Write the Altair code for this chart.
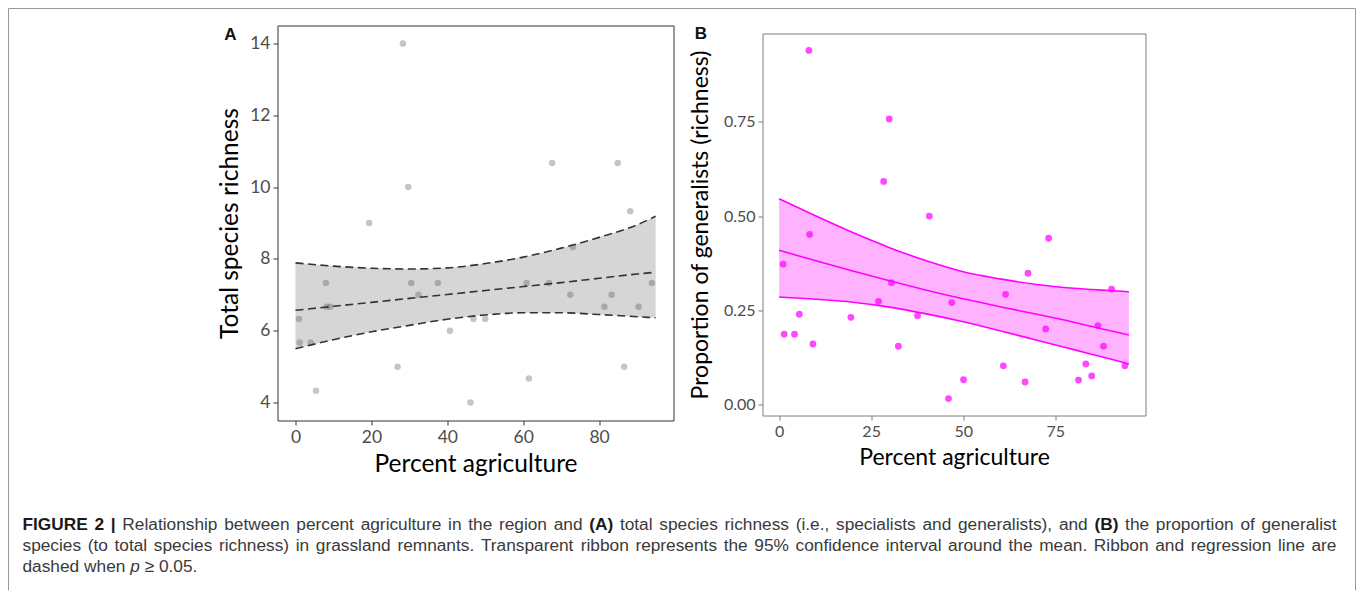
import altair as alt
import pandas as pd

# ---------------- Panel A: total species richness ----------------
agri_a = [0.9, 1.1, 4.0, 5.4, 8.0, 8.2, 9.1, 19.4, 26.9, 28.3, 29.7, 30.5, 32.4, 37.5, 40.7, 46.1,
          46.9, 50.0, 60.9, 61.5, 66.8, 67.6, 72.4, 73.1, 81.4, 83.3, 84.9, 86.6, 88.2, 90.4, 93.9]
rich_a = [6.33, 5.67, 5.67, 4.33, 7.33, 6.67, 6.67, 9.0, 5.0, 14.0, 10.0, 7.33, 7.0, 7.33, 6.0, 4.0,
          6.33, 6.33, 7.33, 4.67, 7.33, 10.67, 7.0, 8.33, 6.67, 7.0, 10.67, 5.0, 9.33, 6.67, 7.33]
fit_x_a = [0, 10, 20, 30, 40, 50, 60, 70, 80, 90, 94.9]
mean_a = [6.57, 6.68, 6.79, 6.90, 7.01, 7.12, 7.23, 7.34, 7.46, 7.58, 7.63]
lo_a = [5.50, 5.75, 5.97, 6.15, 6.32, 6.44, 6.50, 6.50, 6.45, 6.39, 6.36]
hi_a = [7.89, 7.80, 7.74, 7.72, 7.75, 7.87, 8.05, 8.30, 8.60, 8.95, 9.19]

# ---------------- Panel B: proportion of generalists ----------------
agri_b = [1.1, 1.4, 4.2, 5.5, 8.1, 8.3, 9.2, 19.5, 27.0, 28.4, 29.9, 30.5, 32.4, 37.6, 40.8, 46.0,
          46.9, 50.1, 60.9, 61.5, 66.8, 67.6, 72.4, 73.2, 81.3, 83.3, 84.9, 86.6, 88.1, 90.3, 93.9]
prop_b = [0.372, 0.186, 0.186, 0.239, 0.940, 0.451, 0.160, 0.231, 0.273, 0.592, 0.758, 0.323, 0.154,
          0.235, 0.500, 0.015, 0.270, 0.065, 0.102, 0.292, 0.059, 0.348, 0.200, 0.441, 0.064, 0.107,
          0.075, 0.209, 0.154, 0.306, 0.102]
fit_x_b = [0, 10, 20, 30, 40, 50, 60, 70, 80, 90, 95]
mean_b = [0.409, 0.381, 0.354, 0.328, 0.303, 0.280, 0.259, 0.239, 0.218, 0.195, 0.184]
lo_b = [0.285, 0.279, 0.271, 0.258, 0.240, 0.219, 0.195, 0.170, 0.145, 0.120, 0.107]
hi_b = [0.546, 0.500, 0.456, 0.416, 0.381, 0.352, 0.333, 0.318, 0.308, 0.302, 0.299]

x_ticks_a = [0, 20, 40, 60, 80]
y_ticks_a = [4, 6, 8, 10, 12, 14]
x_ticks_b = [0, 25, 50, 75]
y_ticks_b = [0, 0.25, 0.5, 0.75]

# caption: three lines of (text, style) pieces; the first two lines are justified
caption_lines = [
    [("FIGURE 2 |", "bold"),
     ("Relationship between percent agriculture in the region and", "normal"),
     ("(A)", "bold"),
     ("total species richness (i.e., specialists and generalists), and", "normal"),
     ("(B)", "bold"),
     ("the proportion of generalist", "normal")],
    [("species (to total species richness) in grassland remnants. Transparent ribbon represents "
      "the 95% confidence interval around the mean. Ribbon and regression line are", "normal")],
    [("dashed when", "normal"), ("p", "italic"), ("\u2265 0.05.", "normal")],
]
justify = [True, True, False]

pts_a = pd.DataFrame({"x": agri_a, "y": rich_a})
fit_a = pd.DataFrame({"x": fit_x_a, "mean": mean_a, "lo": lo_a, "hi": hi_a})
pts_b = pd.DataFrame({"x": agri_b, "y": prop_b})
fit_b = pd.DataFrame({"x": fit_x_b, "mean": mean_b, "lo": lo_b, "hi": hi_b})
one = pd.DataFrame({"k": [0]})

# plot-area geometry (page pixels)
A_LEFT, A_TOP, A_W, A_H = 277, 25, 396, 395
B_LEFT, B_TOP, B_W, B_H = 762, 33, 383, 382

# ---------- caption word layout (Liberation Sans = Arial metrics) ----------
_reg = {" ": 278, "(": 333, ")": 333, ",": 278, "-": 333, ".": 278, "%": 889, "|": 260,
        "\u2265": 549}
for ch in "0123456789":
    _reg[ch] = 556
for ch, w in zip("ABCDEFGHIJKLMNOPQRSTUVWXYZ",
                 [667, 667, 722, 722, 667, 611, 778, 722, 278, 500, 667, 556, 833, 722, 778, 667,
                  778, 722, 667, 611, 722, 667, 944, 667, 667, 611]):
    _reg[ch] = w
for ch, w in zip("abcdefghijklmnopqrstuvwxyz",
                 [556, 556, 500, 556, 556, 278, 556, 556, 222, 222, 500, 222, 833, 556, 556, 556,
                  556, 333, 500, 278, 556, 500, 722, 500, 500, 500]):
    _reg[ch] = w
_bold = dict(_reg)
_bold.update({"A": 722, "B": 722, "F": 611, "G": 778, "I": 278, "R": 722, "U": 722, "E": 667,
              "|": 280, "(": 333, ")": 333, "2": 556})

CAP_FS = 17.3
CAP_LEFT, CAP_RIGHT = 22, 1336
CAP_BASE = [529, 550, 571]


def tw(s, style):
    tab = _bold if style == "bold" else _reg
    return sum(tab.get(c, 556) for c in s) / 1000.0 * CAP_FS


words = []  # (text, style, x, line)
for li, pieces in enumerate(caption_lines):
    toks = []
    for txt, st in pieces:
        for w in txt.split(" "):
            toks.append((w, st))
    widths = [tw(w, st) for w, st in toks]
    if justify[li]:
        gap = (CAP_RIGHT - CAP_LEFT - sum(widths)) / (len(toks) - 1)
    else:
        gap = tw(" ", "normal")
    xpos = CAP_LEFT
    for (w, st), wd in zip(toks, widths):
        words.append((w, st, xpos, li))
        xpos += wd + gap

cap_layers = []
for w, st, xp, li in words:
    kw = dict(text=w, font="Liberation Sans", fontSize=CAP_FS, align="left",
              baseline="alphabetic", color="#3a3a3a")
    if st == "bold":
        kw.update(fontWeight="bold", color="#1a1a1a")
    if st == "italic":
        kw.update(fontStyle="italic")
    cap_layers.append(alt.Chart(one).mark_text(**kw).encode(
        x=alt.value(round(xp - A_LEFT, 2)), y=alt.value(CAP_BASE[li] - A_TOP)))

common = dict(grid=False, domain=False, labelFont="Lato", titleFont="Lato",
              labelColor="#4d4d4d", titleColor="#000000", titleFontWeight="normal")

xa_scale = alt.Scale(domain=[-4.75, 99.6], nice=False, zero=False)
ya_scale = alt.Scale(domain=[3.5, 14.5], nice=False, zero=False)
xa_axis = alt.Axis(values=x_ticks_a, title="Percent agriculture", labelFontSize=17.5,
                   titleFontSize=24.5, tickSize=4.5, tickColor="#333333", labelPadding=3,
                   titlePadding=7, **common)
ya_axis = alt.Axis(values=y_ticks_a, title="Total species richness", labelFontSize=17.5,
                   titleFontSize=24.5, tickSize=4.5, tickColor="#333333", labelPadding=3,
                   titlePadding=7, **common)

XA = alt.X("x:Q", scale=xa_scale, axis=xa_axis)

ribbon_a = alt.Chart(fit_a).mark_area(color="#d6d6d6", interpolate="monotone").encode(
    x=XA, y=alt.Y("lo:Q", scale=ya_scale, axis=ya_axis), y2="hi:Q")
points_a = alt.Chart(pts_a).mark_circle(size=42, color="#505050", opacity=0.33).encode(
    x=XA, y=alt.Y("y:Q", scale=ya_scale, axis=ya_axis))
dash = [8, 4.5]
lines_a = [
    alt.Chart(fit_a).mark_line(color="#333333", strokeWidth=1.6, strokeDash=dash,
                               interpolate="monotone").encode(
        x=XA, y=alt.Y(f"{c}:Q", scale=ya_scale, axis=ya_axis))
    for c in ["hi", "mean", "lo"]
]

label_a = alt.Chart(one).mark_text(text="A", font="Liberation Sans", fontWeight="bold",
                                   fontSize=17, align="center", baseline="middle",
                                   color="#111111").encode(
    x=alt.value(230 - A_LEFT), y=alt.value(34 - A_TOP))

frame_col = "#9a9a9a"
fr_l, fr_t, fr_r, fr_b = 8, 8, 1355, 590
frame = [
    alt.Chart(one).mark_rule(color=frame_col, strokeWidth=1).encode(
        x=alt.value(fr_l - A_LEFT), y=alt.value(fr_t - A_TOP), y2=alt.value(fr_b - A_TOP)),
    alt.Chart(one).mark_rule(color=frame_col, strokeWidth=1).encode(
        x=alt.value(fr_r - A_LEFT), y=alt.value(fr_t - A_TOP), y2=alt.value(fr_b - A_TOP)),
    alt.Chart(one).mark_rule(color=frame_col, strokeWidth=1).encode(
        x=alt.value(fr_l - A_LEFT), x2=alt.value(fr_r - A_LEFT), y=alt.value(fr_t - A_TOP)),
]

panel_a = alt.layer(ribbon_a, points_a, *lines_a, label_a, *cap_layers, *frame).properties(
    width=A_W, height=A_H, view=alt.ViewBackground(stroke="#333333", strokeWidth=1))

# ---------------- Panel B ----------------
xb_scale = alt.Scale(domain=[-4.5, 99.5], nice=False, zero=False)
yb_scale = alt.Scale(domain=[-0.03, 0.985], nice=False, zero=False)
xb_axis = alt.Axis(values=x_ticks_b, title="Percent agriculture", labelFontSize=16,
                   titleFontSize=23, tickSize=4.5, tickColor="#7f7f7f", labelPadding=3,
                   titlePadding=7, **common)
yb_axis = alt.Axis(values=y_ticks_b, format=".2f", title="Proportion of generalists (richness)",
                   labelFontSize=16, titleFontSize=23, tickSize=4.5, tickColor="#7f7f7f",
                   labelPadding=3, titlePadding=11, **common)
XB = alt.X("x:Q", scale=xb_scale, axis=xb_axis)

ribbon_b = alt.Chart(fit_b).mark_area(color="#ffb3ff", interpolate="monotone").encode(
    x=XB, y=alt.Y("lo:Q", scale=yb_scale, axis=yb_axis), y2="hi:Q")
lines_b = [
    alt.Chart(fit_b).mark_line(color="#ff00ff", strokeWidth=1.6, interpolate="monotone").encode(
        x=XB, y=alt.Y(f"{c}:Q", scale=yb_scale, axis=yb_axis))
    for c in ["hi", "mean", "lo"]
]
points_b = alt.Chart(pts_b).mark_circle(size=46, color="#ff00ff", opacity=0.72).encode(
    x=XB, y=alt.Y("y:Q", scale=yb_scale, axis=yb_axis))
label_b = alt.Chart(one).mark_text(text="B", font="Liberation Sans", fontWeight="bold",
                                   fontSize=17, align="center", baseline="middle",
                                   color="#111111").encode(
    x=alt.value(700.5 - B_LEFT), y=alt.value(33 - B_TOP))

panel_b = alt.layer(ribbon_b, *lines_b, points_b, label_b).properties(
    width=B_W, height=B_H, view=alt.ViewBackground(stroke="#7f7f7f", strokeWidth=1))

spacer = alt.Chart(one).mark_point(opacity=0).encode(
    x=alt.value(0), y=alt.value(0)).properties(
    width=B_W, height=1, view=alt.ViewBackground(stroke=None))

col_b = alt.vconcat(spacer, panel_b, spacing=B_TOP - A_TOP - 1, bounds="flush")

chart = alt.hconcat(panel_a, col_b, spacing=B_LEFT - (A_LEFT + A_W), bounds="flush").properties(
    padding={"left": 7.5, "top": 7.5, "right": 1.5, "bottom": 0},
    background="white",
).configure_view(stroke=None)

chart.save("out.html", embed_options={"renderer": "svg", "actions": False})
